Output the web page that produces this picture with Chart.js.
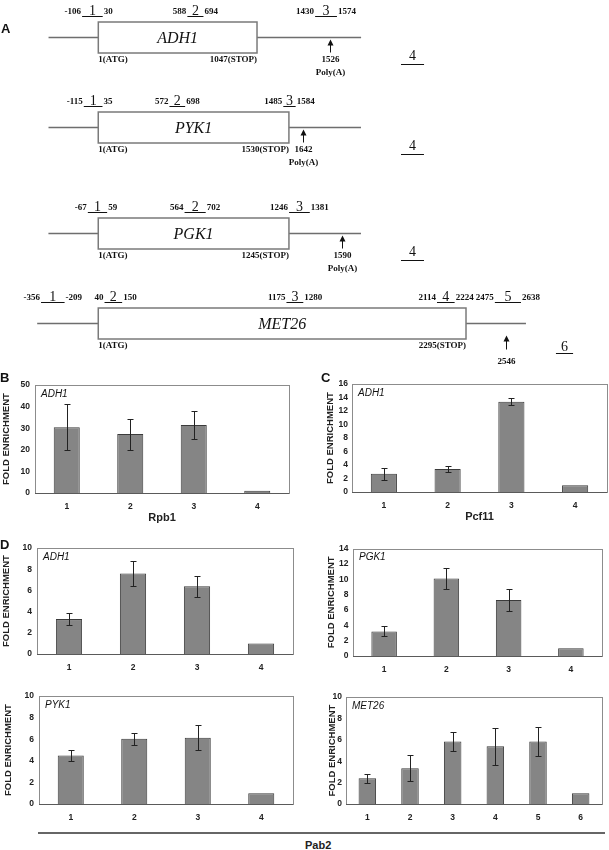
<!DOCTYPE html>
<html lang="en">
<head>
    <meta charset="UTF-8">
    <title>Rpb1 / Pcf11 / Pab2 ChIP on ADH1, PYK1, PGK1, MET26</title>
    <script src="https://cdn.jsdelivr.net/npm/chart.js@4.4.1/dist/chart.umd.min.js"></script>
    <style>
        body { margin: 0; background: #fff; }
        #page { position: relative; width: 609px; height: 850px; overflow: hidden; font-family: "Liberation Sans", Arial, sans-serif; color: #111; }
        #page canvas { position: absolute; }
        .letter { position: absolute; font-weight: bold; font-size: 13px; line-height: 13px; }
        #pabLine { position: absolute; left: 38px; top: 832px; width: 567px; border-top: 2px solid #666; }
        #pabLabel { position: absolute; left: 305px; top: 840px; font-weight: bold; font-size: 11px; line-height: 11px; color: #222; }
    </style>
</head>
<body>
<div id="page">
    <canvas id="mapAdh1" width="609" height="86" style="left:0;top:1px"></canvas>
    <canvas id="mapPyk1" width="609" height="86" style="left:0;top:91px"></canvas>
    <canvas id="mapPgk1" width="609" height="86" style="left:0;top:197px"></canvas>
    <canvas id="mapMet26" width="609" height="86" style="left:0;top:287px"></canvas>
    <canvas id="rpb1" width="293" height="150" style="left:0;top:375px"></canvas>
    <canvas id="pcf11" width="285" height="149" style="left:324px;top:375px"></canvas>
    <canvas id="pabAdh1" width="297" height="138" style="left:0;top:538px"></canvas>
    <canvas id="pabPgk1" width="281" height="139" style="left:325px;top:539px"></canvas>
    <canvas id="pabPyk1" width="295" height="140" style="left:2px;top:686px"></canvas>
    <canvas id="pabMet26" width="280" height="138" style="left:326px;top:688px"></canvas>

    <div class="letter" style="left:1px;top:22px">A</div>
    <div class="letter" style="left:0;top:371px">B</div>
    <div class="letter" style="left:321px;top:371px">C</div>
    <div class="letter" style="left:0;top:538px">D</div>
    <div id="pabLine"></div>
    <div id="pabLabel">Pab2</div>
</div>

<script>
    // ---- Panel A: gene maps, positions in bp (A of ATG = 1) ----
    const genes = ['ADH1', 'PYK1', 'PGK1', 'MET26'];
    const stopCodon = [1047, 1530, 1245, 2295];
    const polyASite = [1526, 1642, 1590, 2546];
    const polyALabelled = [true, true, true, false];
    const ampliconStart = [
        [-106, 588, 1430],
        [-115, 572, 1485],
        [-67, 564, 1246],
        [-356, 40, 1175, 2114, 2475]
    ];
    const ampliconEnd = [
        [30, 694, 1574],
        [35, 698, 1584],
        [59, 702, 1381],
        [-209, 150, 1280, 2224, 2638]
    ];
    // intergenic control amplicon, far downstream
    const controlStart = [1996, 2429, 1976, 2856];
    const controlEnd = [2148, 2613, 2126, 2963];
    const flankStart = [-327, -398, -324, -380];
    const flankEnd = [1733, 2108, 1715, 2669];
    // bp range of each map row
    const mapMin = [-647, -787, -640, -612];
    const mapMax = [3367, 4097, 3333, 3187];

    // ---- Panels B-D: fold enrichment per amplicon ----
    const amplicons4 = ['1', '2', '3', '4'];
    const amplicons6 = ['1', '2', '3', '4', '5', '6'];

    const rpb1Adh1 = [30.5, 27.3, 31.5, 1.0];
    const rpb1Adh1Err = [10.7, 7.2, 6.5, 0];
    const pcf11Adh1 = [2.7, 3.4, 13.4, 1.0];
    const pcf11Adh1Err = [0.9, 0.45, 0.55, 0];
    const pab2Adh1 = [3.3, 7.6, 6.4, 1.0];
    const pab2Adh1Err = [0.6, 1.15, 1.0, 0];
    const pab2Pgk1 = [3.2, 10.1, 7.3, 1.0];
    const pab2Pgk1Err = [0.65, 1.4, 1.4, 0];
    const pab2Pyk1 = [4.5, 6.05, 6.15, 1.0];
    const pab2Pyk1Err = [0.55, 0.55, 1.15, 0];
    const pab2Met26 = [2.4, 3.35, 5.85, 5.4, 5.85, 1.0];
    const pab2Met26Err = [0.45, 1.2, 0.85, 1.75, 1.35, 0];

    Chart.defaults.font.family = '"Liberation Sans", Arial, sans-serif';
    Chart.defaults.color = '#222';

    const serif = '"Liberation Serif", "Times New Roman", serif';

    // one gene map per canvas; x positions come from the hidden bp scale
    const geneMap = {
        id: 'geneMap',
        afterDraw(chart, args, opts) {
            const i = opts.row;
            const gene = genes[i];
            const ctx = chart.ctx;
            const xs = chart.scales.x;
            const px = v => xs.getPixelForValue(v);
            const y0 = Math.round(chart.scales.y.getPixelForValue(0)) + 0.5;
            const low = i === 3; // MET26 row has its arrow and control set lower
            ctx.save();

            ctx.strokeStyle = '#6e6e6e';
            ctx.lineWidth = 1.5;
            ctx.beginPath();
            ctx.moveTo(px(flankStart[i]), y0);
            ctx.lineTo(px(flankEnd[i]), y0);
            ctx.stroke();

            const bx0 = px(1), bx1 = px(stopCodon[i]);
            ctx.fillStyle = '#fff';
            ctx.fillRect(bx0, y0 - 15.5, bx1 - bx0, 31);
            ctx.strokeStyle = '#7a7a7a';
            ctx.strokeRect(bx0, y0 - 15.5, bx1 - bx0, 31);

            ctx.fillStyle = '#111';
            ctx.font = 'italic 16px ' + serif;
            ctx.textAlign = 'center';
            ctx.textBaseline = 'middle';
            ctx.fillText(gene, (bx0 + bx1) / 2, y0 + 1);

            ctx.font = 'bold 9px ' + serif;
            ctx.textAlign = 'left';
            ctx.fillText('1(ATG)', bx0, y0 + 22);
            ctx.textAlign = 'right';
            ctx.fillText(stopCodon[i] + '(STOP)', bx1, y0 + 22);

            ampliconStart[i].forEach((s, j) => {
                const e = ampliconEnd[i][j];
                const xa = px(s), xb = px(e);
                ctx.strokeStyle = '#111';
                ctx.lineWidth = 1;
                ctx.beginPath();
                ctx.moveTo(xa, y0 - 21);
                ctx.lineTo(xb, y0 - 21);
                ctx.stroke();
                ctx.font = '14px ' + serif;
                ctx.textAlign = 'center';
                ctx.textBaseline = 'alphabetic';
                ctx.fillText(String(j + 1), (xa + xb) / 2, y0 - 23);
                ctx.font = 'bold 9px ' + serif;
                ctx.textBaseline = 'middle';
                ctx.textAlign = 'right';
                ctx.fillText(String(s), xa - 1, y0 - 26);
                ctx.textAlign = 'left';
                ctx.fillText(String(e), xb + 1, y0 - 26);
            });

            // poly(A) arrow
            const ax = Math.round(px(polyASite[i])) + 0.5;
            const tip = y0 + (low ? 12 : 2);
            const tail = y0 + (low ? 26 : 15);
            ctx.strokeStyle = '#111';
            ctx.lineWidth = 1;
            ctx.beginPath();
            ctx.moveTo(ax, tail);
            ctx.lineTo(ax, tip + 4);
            ctx.stroke();
            ctx.beginPath();
            ctx.moveTo(ax, tip);
            ctx.lineTo(ax - 3, tip + 6);
            ctx.lineTo(ax + 3, tip + 6);
            ctx.closePath();
            ctx.fill();
            ctx.font = 'bold 9px ' + serif;
            ctx.textAlign = 'center';
            ctx.textBaseline = 'middle';
            ctx.fillText(String(polyASite[i]), ax, y0 + (low ? 38 : 22.5));
            if (polyALabelled[i]) ctx.fillText('Poly(A)', ax, y0 + 35);

            // downstream control amplicon
            const ca = px(controlStart[i]), cb = px(controlEnd[i]);
            ctx.beginPath();
            ctx.moveTo(ca, y0 + (low ? 30 : 27));
            ctx.lineTo(cb, y0 + (low ? 30 : 27));
            ctx.stroke();
            ctx.font = '14px ' + serif;
            ctx.textBaseline = 'alphabetic';
            ctx.fillText(String(ampliconStart[i].length + 1), (ca + cb) / 2, y0 + (low ? 27 : 22));
            ctx.restore();
        }
    };

    function geneMapChart(id, row) {
        return new Chart(document.getElementById(id), {
            type: 'scatter',
            data: { datasets: [] },
            options: {
                responsive: false,
                animation: false,
                layout: { padding: 0 },
                plugins: { legend: { display: false }, tooltip: { enabled: false }, geneMap: { row: row } },
                scales: {
                    x: { type: 'linear', display: false, min: mapMin[row], max: mapMax[row] },
                    // the DNA line sits at 0, 36 px below the canvas top
                    y: { type: 'linear', display: false, min: -50, max: 36 }
                }
            },
            plugins: [geneMap]
        });
    }

    geneMapChart('mapAdh1', 0);
    geneMapChart('mapPyk1', 1);
    geneMapChart('mapPgk1', 2);
    geneMapChart('mapMet26', 3);

    // grey frame round the plot area plus the italic gene name
    const plotFrame = {
        id: 'plotFrame',
        beforeDatasetsDraw(chart, args, opts) {
            const { ctx, chartArea: a } = chart;
            ctx.save();
            ctx.strokeStyle = '#8c8c8c';
            ctx.lineWidth = 1;
            ctx.strokeRect(Math.round(a.left) + 0.5, Math.round(a.top) + 0.5, Math.round(a.right - a.left), Math.round(a.bottom - a.top));
            ctx.strokeStyle = '#5a5a5a';
            ctx.beginPath();
            ctx.moveTo(a.left, Math.round(a.bottom) + 0.5);
            ctx.lineTo(a.right, Math.round(a.bottom) + 0.5);
            ctx.stroke();
            ctx.fillStyle = '#111';
            ctx.font = 'italic 10px "Liberation Sans", Arial, sans-serif';
            ctx.textAlign = 'left';
            ctx.textBaseline = 'middle';
            ctx.fillText(opts.gene, a.left + 6, a.top + 9);
            ctx.restore();
        }
    };

    const errorBars = {
        id: 'errorBars',
        afterDatasetsDraw(chart, args, opts) {
            const ctx = chart.ctx;
            const ys = chart.scales.y;
            const vals = chart.data.datasets[0].data;
            const bars = chart.getDatasetMeta(0).data;
            ctx.save();
            ctx.strokeStyle = '#222';
            ctx.lineWidth = 1;
            bars.forEach((bar, i) => {
                const e = opts.errors[i];
                if (!e) return;
                const x = Math.round(bar.x) + 0.5;
                const yHi = Math.round(ys.getPixelForValue(vals[i] + e)) + 0.5;
                const yLo = Math.round(ys.getPixelForValue(vals[i] - e)) + 0.5;
                ctx.beginPath();
                ctx.moveTo(x, yHi); ctx.lineTo(x, yLo);
                ctx.moveTo(x - 3, yHi); ctx.lineTo(x + 3, yHi);
                ctx.moveTo(x - 3, yLo); ctx.lineTo(x + 3, yLo);
                ctx.stroke();
            });
            ctx.restore();
        }
    };

    function enrichmentChart(id, labels, values, errors, yMax, yStep, gene, xTitle, yW, padRight, tickPad) {
        const xH = xTitle ? 32 : 22;
        return new Chart(document.getElementById(id), {
            type: 'bar',
            data: {
                labels: labels,
                datasets: [{
                    data: values,
                    backgroundColor: '#858585',
                    borderColor: '#3b3b3b',
                    borderWidth: 1,
                    barPercentage: 0.41,
                    categoryPercentage: 1
                }]
            },
            options: {
                responsive: false,
                animation: false,
                layout: { padding: { top: 8, right: padRight, bottom: 0, left: 0 } },
                plugins: {
                    legend: { display: false },
                    tooltip: { enabled: false },
                    plotFrame: { gene: gene },
                    errorBars: { errors: errors }
                },
                scales: {
                    x: {
                        grid: { display: false, drawTicks: false },
                        border: { display: false },
                        ticks: { padding: 9, font: { size: 8.5, weight: 'bold' } },
                        title: { display: !!xTitle, text: xTitle || '', font: { size: 11, weight: 'bold' }, padding: 0 },
                        afterFit: s => { s.height = xH; }
                    },
                    y: {
                        min: 0,
                        max: yMax,
                        grid: { display: false, drawTicks: false },
                        border: { display: false },
                        ticks: { stepSize: yStep, padding: tickPad, font: { size: 8.5, weight: 'bold' } },
                        title: { display: true, text: 'FOLD ENRICHMENT', font: { size: 9.5, weight: 'bold' }, padding: { top: 1, bottom: 0 } },
                        afterFit: s => { s.width = yW; }
                    }
                }
            },
            plugins: [plotFrame, errorBars]
        });
    }

    enrichmentChart('rpb1', amplicons4, rpb1Adh1, rpb1Adh1Err, 50, 10, 'ADH1', 'Rpb1', 35, 4, 5);
    enrichmentChart('pcf11', amplicons4, pcf11Adh1, pcf11Adh1Err, 16, 2, 'ADH1', 'Pcf11', 28, 2, 4);
    enrichmentChart('pabAdh1', amplicons4, pab2Adh1, pab2Adh1Err, 10, 2, 'ADH1', null, 37, 4, 5);
    enrichmentChart('pabPgk1', amplicons4, pab2Pgk1, pab2Pgk1Err, 14, 2, 'PGK1', null, 28, 4, 4.5);
    enrichmentChart('pabPyk1', amplicons4, pab2Pyk1, pab2Pyk1Err, 10, 2, 'PYK1', null, 37, 4, 5);
    enrichmentChart('pabMet26', amplicons6, pab2Met26, pab2Met26Err, 10, 2, 'MET26', null, 20, 4, 4);
</script>
</body>
</html>
